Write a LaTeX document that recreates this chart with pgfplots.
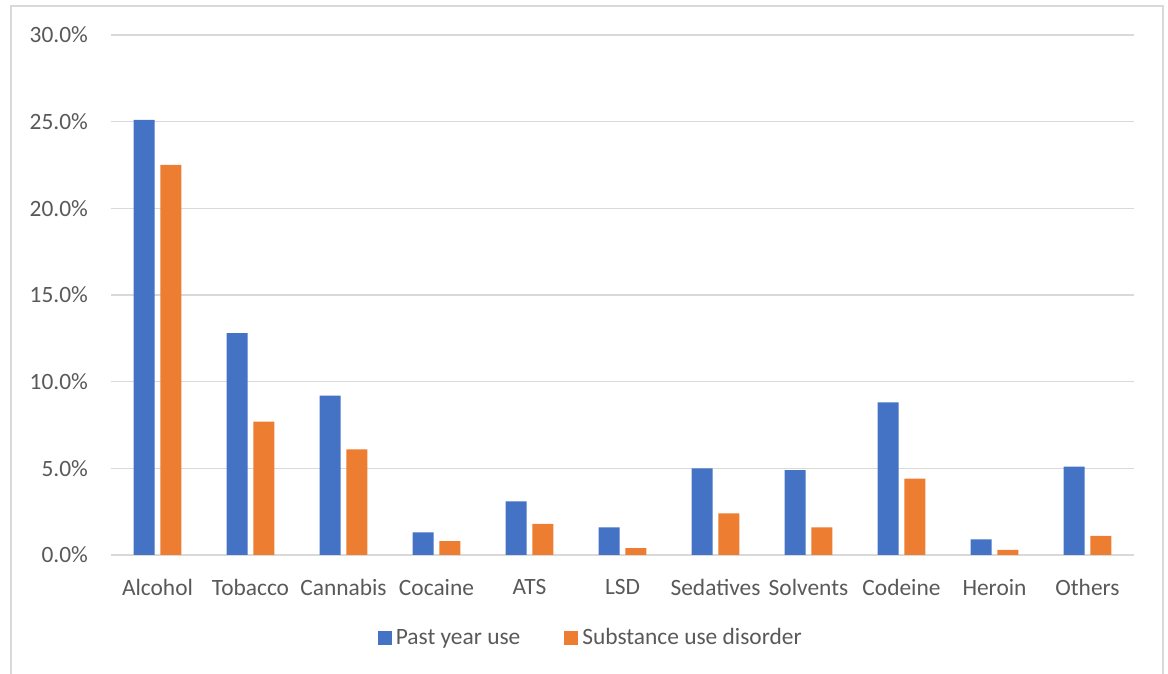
\documentclass[border=0pt]{standalone}
\usepackage{pgfplots}
\pgfplotsset{compat=1.18}
\usepackage{fontspec}
\setmainfont{Carlito}
\definecolor{pyblue}{HTML}{4472C4}
\definecolor{suorange}{HTML}{ED7D31}
\definecolor{gridgray}{HTML}{D9D9D9}
\definecolor{txtgray}{HTML}{595959}
\begin{document}
\begin{tikzpicture}[x=0.5pt,y=0.5pt]
\useasboundingbox (0,0) rectangle (1168,674);
% chart frame (left, top, right)
\draw[gridgray, line width=0.75pt] (11,0) -- (11,668) -- (1163,668) -- (1163,0);
\begin{axis}[
  at={(55.5pt,59.5pt)}, anchor=south west,
  scale only axis, width=511.5pt, height=260pt,
  xmin=-0.5, xmax=10.5, ymin=0, ymax=30,
  ybar, bar width=10.5pt,
  xtick={0,...,10},
  xticklabels={Alcohol,Tobacco,Cannabis,Cocaine,ATS,LSD,Sedatives,Solvents,Codeine,Heroin,Others},
  ytick={0,5,...,30},
  yticklabels={0.0\%,5.0\%,10.0\%,15.0\%,20.0\%,25.0\%,30.0\%},
  major tick length=0pt,
  axis line style={draw=none},
  ymajorgrids, grid style={gridgray, line width=0.75pt},
  tick label style={font=\fontsize{11.7}{14}\selectfont, text=txtgray},
  xticklabel style={yshift=-8.5pt},
  yticklabel style={xshift=-8pt},
  legend style={at={(0.47,-0.16)}, anchor=center, draw=none, fill=none,
    font=\fontsize{11.7}{14}\selectfont, text=txtgray,
    /tikz/every even column/.append style={column sep=20pt}},
  legend columns=2,
  legend image code/.code={\fill[#1] (0pt,-3.5pt) rectangle (7pt,3.5pt);},
]
\addplot[fill=pyblue, draw=none, bar shift=-6.7pt] coordinates {
  (0,25.1) (1,12.8) (2,9.2) (3,1.3) (4,3.1) (5,1.6) (6,5.0) (7,4.9) (8,8.8) (9,0.9) (10,5.1)};
\addlegendentry{Past year use}
\addplot[fill=suorange, draw=none, bar shift=6.7pt] coordinates {
  (0,22.5) (1,7.7) (2,6.1) (3,0.8) (4,1.8) (5,0.4) (6,2.4) (7,1.6) (8,4.4) (9,0.3) (10,1.1)};
\addlegendentry{Substance use disorder}
\end{axis}
\end{tikzpicture}
\end{document}
